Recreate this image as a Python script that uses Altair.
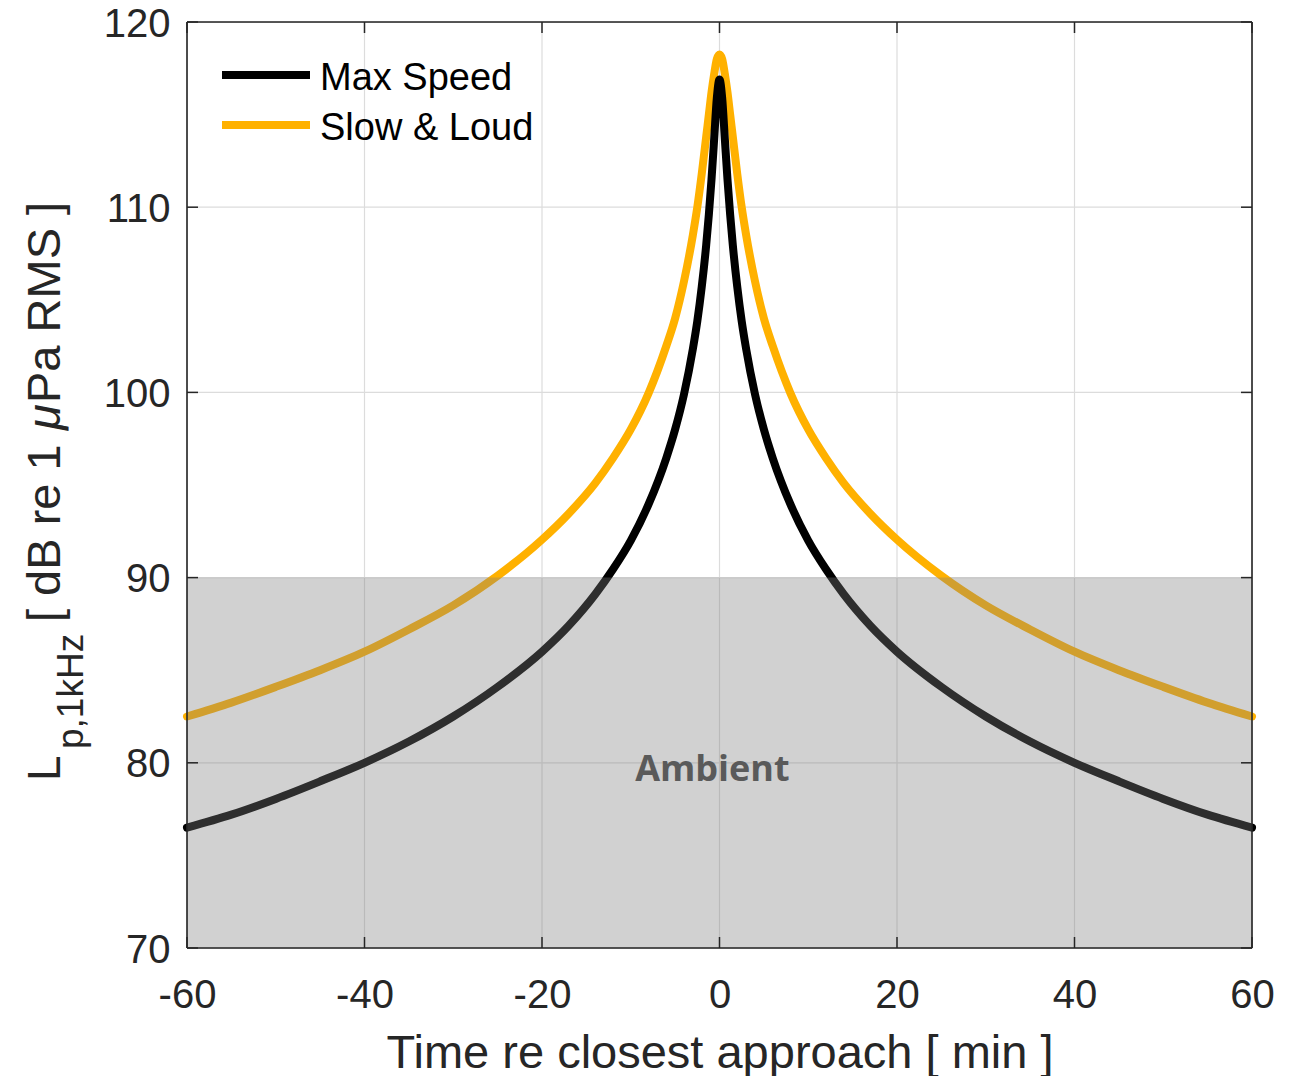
import altair as alt
import pandas as pd

# ---- data ----
times = [-60, -55, -50, -45, -40, -35, -30, -25, -20, -17, -14, -12, -10, -8, -6, -5, -4, -3,
         -2.5, -2, -1.5, -1.2, -0.9, -0.6, -0.3, 0,
         0.3, 0.6, 0.9, 1.2, 1.5, 2, 2.5, 3, 4, 5, 6, 8, 10, 12, 14, 17, 20, 25, 30, 35, 40,
         45, 50, 55, 60]
max_speed = [76.5, 77.2, 78.05, 79.0, 80.0, 81.15, 82.5, 84.1, 86.0, 87.4, 89.1, 90.45, 92.0,
             93.95, 96.45, 98.0, 99.9, 102.35, 103.85, 105.7, 107.95, 109.6, 111.5, 113.7,
             115.9, 116.9,
             115.9, 113.7, 111.5, 109.6, 107.95, 105.7, 103.85, 102.35, 99.9, 98.0, 96.45,
             93.95, 92.0, 90.45, 89.1, 87.4, 86.0, 84.1, 82.5, 81.15, 80.0, 79.0, 78.05,
             77.2, 76.5]
slow_loud = [82.5, 83.25, 84.1, 85.0, 86.0, 87.2, 88.5, 90.1, 92.05, 93.45, 95.1, 96.45, 98.0,
             99.95, 102.5, 104.0, 106.0, 108.5, 110.0, 111.8, 113.8, 115.0, 116.2, 117.2,
             118.0, 118.25,
             118.0, 117.2, 116.2, 115.0, 113.8, 111.8, 110.0, 108.5, 106.0, 104.0, 102.5,
             99.95, 98.0, 96.45, 95.1, 93.45, 92.05, 90.1, 88.5, 87.2, 86.0, 85.0, 84.1,
             83.25, 82.5]
names = ["Max Speed", "Slow & Loud"]
colors = ["#000000", "#FFB100"]
x_ticks = [-60, -40, -20, 0, 20, 40, 60]
y_ticks = [70, 80, 90, 100, 110, 120]
ambient = [70, 90]
ambient_label = "Ambient"
ambient_pos = [-0.8, 79.0]
x_title = "Time re closest approach [ min ]"
y_title_main = "L"
y_title_sub = "p,1kHz"
y_title_a = "[ dB re 1 "
y_title_mu = "μ"
y_title_b = "Pa RMS ]"

# ---- styling ----
W, H = 1065, 926
FONT = "Liberation Sans"
INK = "#262626"
GRID = "#dcdcdc"

xs = alt.Scale(domain=[x_ticks[0], x_ticks[-1]], nice=False, zero=False)
ys = alt.Scale(domain=[y_ticks[0], y_ticks[-1]], nice=False, zero=False)

x_axis = alt.Axis(values=x_ticks, grid=False, ticks=False, tickSize=0, domain=False,
                  labelFont=FONT, labelFontSize=40, labelColor=INK, labelPadding=27,
                  labelFlush=False, labelExpr="'' + datum.value",
                  title=x_title, titleFont=FONT, titleFontSize=47, titleFontWeight="normal",
                  titleColor=INK, titlePadding=15)
y_axis = alt.Axis(values=y_ticks, grid=False, ticks=False, tickSize=0, domain=False,
                  labelFont=FONT, labelFontSize=40, labelColor=INK, labelPadding=17,
                  labelFlush=False, labelOffset=2, title=None)


def X(f):
    return alt.X(f, type="quantitative", scale=xs, axis=x_axis)


def Y(f):
    return alt.Y(f, type="quantitative", scale=ys, axis=y_axis)


layers = []

# grid
layers.append(alt.Chart(pd.DataFrame({"t": x_ticks})).mark_rule(color=GRID, strokeWidth=1.2)
              .encode(x=X("t")))
layers.append(alt.Chart(pd.DataFrame({"L": y_ticks})).mark_rule(color=GRID, strokeWidth=1.2)
              .encode(y=Y("L")))

# curves (orange below, black on top)
for name, vals, col in [(names[1], slow_loud, colors[1]), (names[0], max_speed, colors[0])]:
    d = pd.DataFrame({"t": times, "L": vals, "series": name})
    layers.append(alt.Chart(d).mark_line(color=col, strokeWidth=8, interpolate="monotone",
                                         strokeCap="round", strokeJoin="round")
                  .encode(x=X("t"), y=Y("L")))

# ambient band (translucent, on top of curves)
band = pd.DataFrame({"x0": [x_ticks[0]], "x1": [x_ticks[-1]], "lo": [ambient[0]], "hi": [ambient[1]]})
layers.append(alt.Chart(band).mark_rect(color="#808080", opacity=0.36)
              .encode(x=X("x0"), x2="x1", y=Y("lo"), y2="hi"))

layers.append(alt.Chart(pd.DataFrame({"t": [ambient_pos[0]], "L": [ambient_pos[1]], "s": [ambient_label]}))
              .mark_text(font="Open Sans", fontSize=36, fontWeight="bold", color="#5a5a5a",
                         align="center", baseline="alphabetic")
              .encode(x=X("t"), y=Y("L"), text="s:N"))

# ticks inward on all four sides
TK = 11
yt = pd.DataFrame({"L": y_ticks})
xt = pd.DataFrame({"t": x_ticks})
layers.append(alt.Chart(yt).mark_rule(color=INK, strokeWidth=1.5)
              .encode(y=Y("L"), x=alt.value(0), x2=alt.value(TK)))
layers.append(alt.Chart(yt).mark_rule(color=INK, strokeWidth=1.5)
              .encode(y=Y("L"), x=alt.value(W - TK), x2=alt.value(W)))
layers.append(alt.Chart(xt).mark_rule(color=INK, strokeWidth=1.5)
              .encode(x=X("t"), y=alt.value(H), y2=alt.value(H - TK)))
layers.append(alt.Chart(xt).mark_rule(color=INK, strokeWidth=1.5)
              .encode(x=X("t"), y=alt.value(0), y2=alt.value(TK)))

# frame
frame = pd.DataFrame({"k": [0]})
for enc in [dict(x=alt.value(0), x2=alt.value(W), y=alt.value(0)),
            dict(x=alt.value(0), x2=alt.value(W), y=alt.value(H)),
            dict(x=alt.value(0), y=alt.value(0), y2=alt.value(H)),
            dict(x=alt.value(W), y=alt.value(0), y2=alt.value(H))]:
    layers.append(alt.Chart(frame).mark_rule(color=INK, strokeWidth=1.6).encode(**enc))

# legend (drawn by hand)
for i, (name, col) in enumerate(zip(names, colors)):
    yy = 53 + 50 * i
    layers.append(alt.Chart(pd.DataFrame({"s": [name]})).mark_rule(color=col, strokeWidth=8)
                  .encode(x=alt.value(35), x2=alt.value(123), y=alt.value(yy)))
    layers.append(alt.Chart(pd.DataFrame({"s": [name]}))
                  .mark_text(font=FONT, fontSize=38, color="#000000", align="left",
                             baseline="middle")
                  .encode(x=alt.value(133), y=alt.value(yy + 4), text="s:N"))

# y-axis title pieces (rotated)
for txt, size, bx, by, style in [(y_title_main, 46, -127, 759, "normal"),
                                 (y_title_sub, 37, -104, 727, "normal"),
                                 (y_title_a, 47, -127, 600, "normal"),
                                 (y_title_mu, 47, -127, 408, "italic"),
                                 (y_title_b, 47, -127, 381, "normal")]:
    layers.append(alt.Chart(pd.DataFrame({"s": [txt]}))
                  .mark_text(font=FONT, fontSize=size, fontStyle=style, color=INK,
                             align="left", baseline="alphabetic", angle=270)
                  .encode(x=alt.value(bx), y=alt.value(by), text="s:N"))

chart = alt.layer(*layers).properties(
    width=W, height=H,
    autosize=alt.AutoSizeParams(type="none"),
    padding={"left": 179, "top": 14, "right": 44, "bottom": 128},
).configure_view(stroke=None).configure(background="white")

chart.save("out.html", embed_options={"renderer": "svg", "actions": False})
